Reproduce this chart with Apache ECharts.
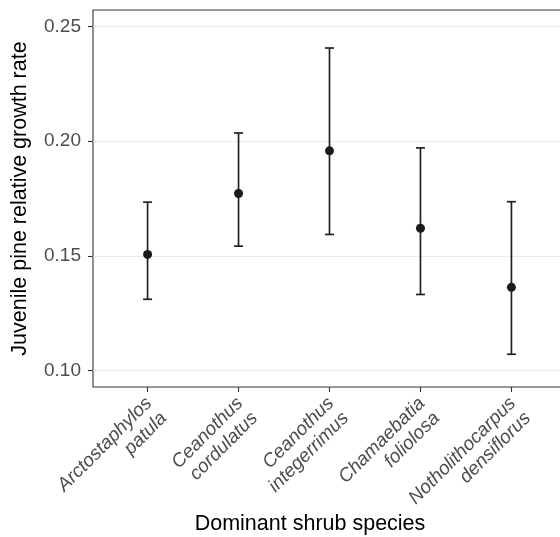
<!DOCTYPE html>
<html>
<head>
<meta charset="utf-8">
<script src="https://cdn.jsdelivr.net/npm/echarts@6/dist/echarts.min.js"></script>
<style>
  html, body { margin: 0; padding: 0; background: #fff; }
  #chart { width: 560px; height: 537px; }
</style>
</head>
<body>
<div id="chart"></div>
<script>
// data
const species = [
  'Arctostaphylos\npatula',
  'Ceanothus\ncordulatus',
  'Ceanothus\nintegerrimus',
  'Chamaebatia\nfoliolosa',
  'Notholithocarpus\ndensiflorus'
];
const meanRate = [0.1506, 0.1772, 0.1958, 0.1620, 0.1362];
const lowerRate = [0.1310, 0.1542, 0.1593, 0.1331, 0.1070];
const upperRate = [0.1734, 0.2036, 0.2407, 0.1971, 0.1736];
const yTicks = [0.10, 0.15, 0.20, 0.25];
const xTicks = [1, 2, 3, 4, 5];

const chart = echarts.init(document.getElementById('chart'));

const barData = species.map((s, i) => [i + 1, lowerRate[i], upperRate[i]]);
const pointData = species.map((s, i) => [i + 1, meanRate[i]]);

const option = {
  animation: false,
  backgroundColor: '#fff',
  textStyle: { fontFamily: 'Liberation Sans, Arial, sans-serif' },
  grid: {
    left: 93, top: 10, width: 473, height: 377,
    outerBoundsMode: 'none',
    containLabel: false,
    show: true,
    borderColor: '#333',
    borderWidth: 1.1
  },
  xAxis: {
    type: 'value',
    min: 0.4,
    max: 5.6,
    name: 'Dominant shrub species',
    nameLocation: 'middle',
    nameGap: 126,
    nameMoveOverlap: false,
    nameTextStyle: { fontSize: 21.5, color: '#000', padding: [0, 39, 0, 0] },
    axisLine: { show: false },
    splitLine: { show: false },
    axisTick: { show: true, customValues: xTicks, length: 5, lineStyle: { color: '#333', width: 1.1 } },
    axisLabel: {
      customValues: xTicks,
      formatter: v => species[Math.round(v) - 1],
      rotate: 45,
      align: 'right',
      verticalAlign: 'top',
      margin: 0,
      padding: [0, 8.5, 0, 0],
      fontSize: 19,
      fontStyle: 'italic',
      color: '#4d4d4d',
      lineHeight: 21
    }
  },
  yAxis: {
    type: 'value',
    min: 0.0927,
    max: 0.2573,
    name: 'Juvenile pine relative growth rate',
    nameLocation: 'middle',
    nameGap: 62,
    nameTextStyle: { fontSize: 21.5, color: '#000' },
    axisLine: { show: false },
    axisTick: { show: true, customValues: yTicks, length: 5, lineStyle: { color: '#333', width: 1.1 } },
    axisLabel: {
      customValues: yTicks,
      formatter: v => v.toFixed(2),
      margin: 12,
      fontSize: 19,
      color: '#4d4d4d'
    },
    splitLine: { show: true, lineStyle: { color: '#ebebeb', width: 1.1 } }
  },
  series: [
    {
      type: 'custom',
      data: barData,
      encode: { x: 0, y: [1, 2] },
      renderItem(params, api) {
        const x = api.value(0);
        const lo = api.coord([x, api.value(1)]);
        const hi = api.coord([x, api.value(2)]);
        const half = 4.5;
        const style = { stroke: '#222', lineWidth: 1.7 };
        return {
          type: 'group',
          children: [
            { type: 'line', shape: { x1: lo[0], y1: lo[1], x2: hi[0], y2: hi[1] }, style },
            { type: 'line', shape: { x1: lo[0] - half, y1: lo[1], x2: lo[0] + half, y2: lo[1] }, style },
            { type: 'line', shape: { x1: hi[0] - half, y1: hi[1], x2: hi[0] + half, y2: hi[1] }, style }
          ]
        };
      },
      z: 2
    },
    {
      type: 'scatter',
      data: pointData,
      symbolSize: 9,
      itemStyle: { color: '#1a1a1a', opacity: 1 },
      z: 3
    }
  ]
};

chart.setOption(option);
</script>
</body>
</html>
